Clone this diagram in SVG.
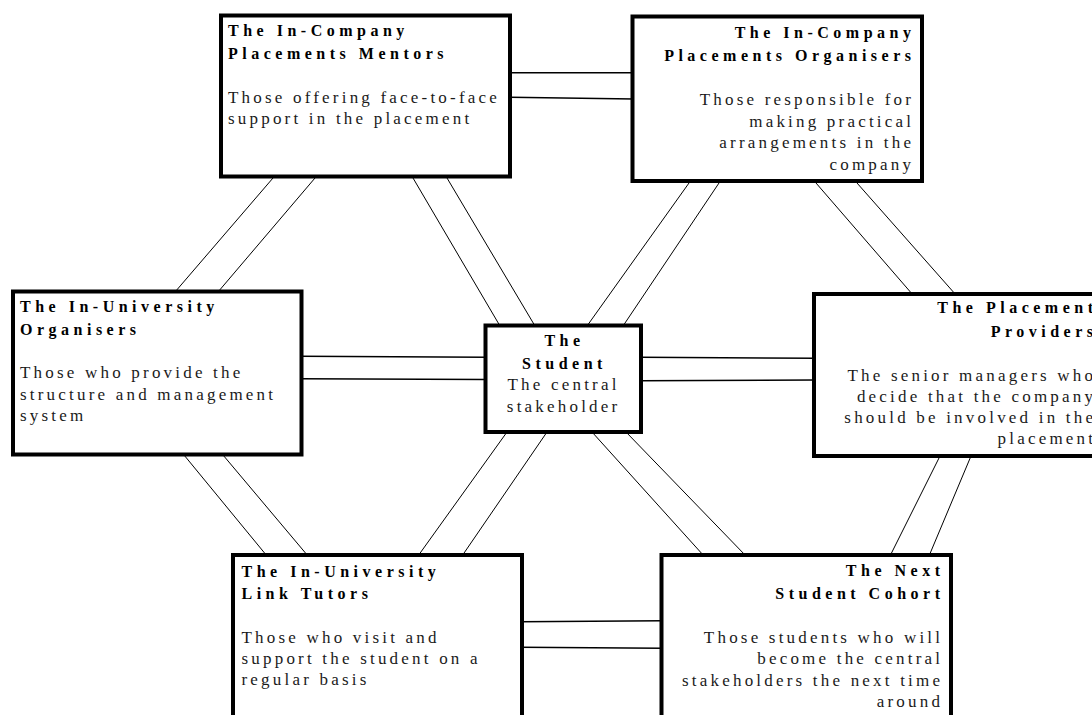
<svg xmlns="http://www.w3.org/2000/svg" width="1092" height="715" viewBox="0 0 1092 715">
<style>
.box{fill:#fff;stroke:#000;stroke-width:4}
.h{stroke:#000;stroke-width:1.5;fill:none}
.d{stroke:#000;stroke-width:1;fill:none}
.t{font-family:"Liberation Serif","Times New Roman",serif;font-weight:bold;font-size:16px;letter-spacing:4.5px;fill:#000}
.b{font-family:"Liberation Serif","Times New Roman",serif;font-size:17px;letter-spacing:3.2px;fill:#1a1a1a}
.e{text-anchor:end}
.m{text-anchor:middle}
</style>
<rect width="1092" height="715" fill="#fff"/>
<g id="connectors">
<line class="h" x1="510" y1="72.7" x2="634" y2="72.7"/>
<line class="h" x1="510" y1="97.3" x2="634" y2="99"/>
<line class="h" x1="300" y1="356.3" x2="487" y2="357.3"/>
<line class="h" x1="300" y1="378.7" x2="487" y2="379.5"/>
<line class="h" x1="640" y1="357.3" x2="816" y2="358.3"/>
<line class="h" x1="640" y1="380.7" x2="816" y2="380"/>
<line class="h" x1="520" y1="621.7" x2="663" y2="620.7"/>
<line class="h" x1="520" y1="647.3" x2="663" y2="648.3"/>
<line class="d" x1="273" y1="178" x2="175" y2="292"/>
<line class="d" x1="315" y1="178" x2="218" y2="292"/>
<line class="d" x1="413" y1="178" x2="500" y2="326"/>
<line class="d" x1="447" y1="178" x2="535" y2="326"/>
<line class="d" x1="689" y1="183" x2="587" y2="326"/>
<line class="d" x1="719" y1="183" x2="623" y2="326"/>
<line class="d" x1="816" y1="183" x2="913" y2="295"/>
<line class="d" x1="857" y1="183" x2="956" y2="295"/>
<line class="d" x1="184" y1="455" x2="267" y2="556"/>
<line class="d" x1="223" y1="455" x2="308" y2="556"/>
<line class="d" x1="507" y1="432" x2="418" y2="556"/>
<line class="d" x1="547" y1="432" x2="462" y2="556"/>
<line class="d" x1="592" y1="432" x2="704" y2="556"/>
<line class="d" x1="626" y1="432" x2="746" y2="556"/>
<line class="d" x1="940" y1="456" x2="890" y2="556"/>
<line class="d" x1="971" y1="456" x2="929" y2="556"/>
</g>
<g id="mentors">
<rect class="box" x="221" y="15.5" width="289" height="161"/>
<text class="t" x="228" y="35.5">The In-Company</text>
<text class="t" x="228" y="58.5">Placements Mentors</text>
<text class="b" x="228" y="103">Those offering face-to-face</text>
<text class="b" x="228" y="124">support in the placement</text>
</g>
<g id="organisers">
<rect class="box" x="632.5" y="16.5" width="289.5" height="164.5"/>
<text class="t e" x="915.5" y="38">The In-Company</text>
<text class="t e" x="915.5" y="61">Placements Organisers</text>
<text class="b e" x="914.2" y="105">Those responsible for</text>
<text class="b e" x="914.2" y="126.5">making practical</text>
<text class="b e" x="914.2" y="148">arrangements in the</text>
<text class="b e" x="914.2" y="169.5">company</text>
</g>
<g id="uni-organisers">
<rect class="box" x="13" y="291.5" width="288.5" height="163"/>
<text class="t" x="20" y="312">The In-University</text>
<text class="t" x="20" y="334.5">Organisers</text>
<text class="b" x="20" y="378">Those who provide the</text>
<text class="b" x="20" y="399.5">structure and management</text>
<text class="b" x="20" y="421">system</text>
</g>
<g id="student">
<rect class="box" x="485.5" y="325.5" width="155.5" height="106.5"/>
<text class="t m" x="564.5" y="345.5">The</text>
<text class="t m" x="564.5" y="369">Student</text>
<text class="b m" x="563.6" y="390">The central</text>
<text class="b m" x="563.6" y="411.5">stakeholder</text>
</g>
<g id="providers">
<rect class="box" x="814" y="294" width="300" height="162"/>
<text class="t e" x="1097.5" y="313.3">The Placement</text>
<text class="t e" x="1097.5" y="336.7">Providers</text>
<text class="b e" x="1096.2" y="381">The senior managers who</text>
<text class="b e" x="1096.2" y="402">decide that the company</text>
<text class="b e" x="1096.2" y="423">should be involved in the</text>
<text class="b e" x="1096.2" y="443.5">placement</text>
</g>
<g id="link-tutors">
<rect class="box" x="233" y="555" width="289" height="200"/>
<text class="t" x="241.5" y="576.7">The In-University</text>
<text class="t" x="241.5" y="599">Link Tutors</text>
<text class="b" x="241.5" y="642.7">Those who visit and</text>
<text class="b" x="241.5" y="663.7">support the student on a</text>
<text class="b" x="241.5" y="685">regular basis</text>
</g>
<g id="cohort">
<rect class="box" x="661.5" y="555" width="289.5" height="200"/>
<text class="t e" x="944.5" y="576">The Next</text>
<text class="t e" x="944.5" y="599">Student Cohort</text>
<text class="b e" x="943.2" y="642.7">Those students who will</text>
<text class="b e" x="943.2" y="664">become the central</text>
<text class="b e" x="943.2" y="685.5">stakeholders the next time</text>
<text class="b e" x="943.2" y="706.7">around</text>
</g>
</svg>
